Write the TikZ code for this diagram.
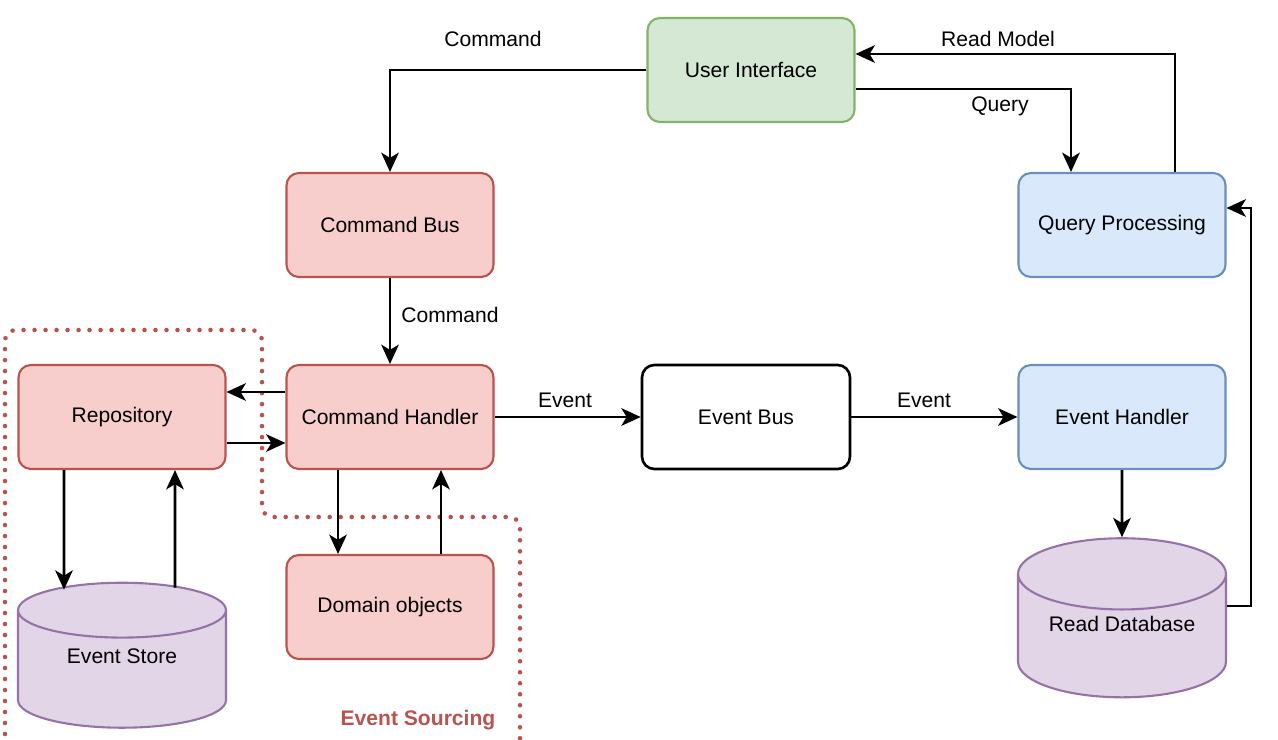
\documentclass[tikz,border=0pt]{standalone}
\usepackage{fontspec}
\setmainfont{Liberation Sans}
\usetikzlibrary{arrows.meta,positioning,calc,shapes.geometric}
\definecolor{cmdfill}{HTML}{F8CECC}
\definecolor{cmdline}{HTML}{B85450}
\definecolor{uifill}{HTML}{D5E8D4}
\definecolor{uiline}{HTML}{82B366}
\definecolor{qryfill}{HTML}{DAE8FC}
\definecolor{qryline}{HTML}{6C8EBF}
\definecolor{dbfill}{HTML}{E1D5E7}
\definecolor{dbline}{HTML}{9673A6}
\begin{document}
\begin{tikzpicture}[x=0.02cm,y=-0.02cm,
  box/.style={draw=#1line,fill=#1fill,rounded corners=7pt,line width=1.2pt,
    minimum width=4.14cm,minimum height=2.08cm,font=\fontsize{12}{14}\selectfont},
  store/.style={cylinder,shape border rotate=90,aspect=0.45,draw=dbline,fill=dbfill,
    line width=1.2pt,minimum width=4.16cm,minimum height=2.9cm,text depth=0.72cm,
    font=\fontsize{12}{14}\selectfont},
  flow/.style={line width=1.5pt,-{Stealth[length=11pt,width=10pt,inset=3pt]}},
  lbl/.style={font=\fontsize{12}{14}\selectfont},
]
  \useasboundingbox (0,0) rectangle (1278,740);

  % event sourcing frame
  \draw[cmdline,line width=2.6pt,line cap=round,dash pattern=on 0pt off 0.22cm,rounded corners=6pt]
    (5,745) -- (5,330) -- (262,330) -- (262,517) -- (520,517) -- (520,745);
  \node[font=\fontsize{12}{14}\selectfont\bfseries,text=cmdline] (srclbl) at (418,720) {Event Sourcing};

  \node[box=ui] (ui) at (751,70) {User Interface};
  \node[box=cmd] (cbus) at (390,225) {Command Bus};
  \node[box=qry] (qproc) at (1122,225) {Query Processing};
  \node[box=cmd] (repo) at (122,417) {Repository};
  \node[box=cmd] (handler) at (390,417) {Command Handler};
  \node[draw,fill=white,rounded corners=7pt,line width=1.5pt,minimum width=4.16cm,
    minimum height=2.08cm,font=\fontsize{12}{14}\selectfont] (ebus) at (746,417) {Event Bus};
  \node[box=qry] (ehandler) at (1122,417) {Event Handler};
  \node[box=cmd] (domain) at (390,607) {Domain objects};
  \node[store] (estore) at (122,674) {Event Store};
  \node[store] (rdb) at (1122,642) {Read Database};

  % command side
  \draw[flow] (ui.west) -| (cbus.north);
  \draw[flow] (cbus.south) -- (handler.north);
  \draw[flow] ($(handler.west)+(0,-25)$) -- ($(repo.east)+(0,-25)$);
  \draw[flow] ($(repo.east)+(0,26)$) -- ($(handler.west)+(0,26)$);
  \draw[flow] ($(repo.south)+(-58,0)$) -- ($(estore.north)+(-58,8)$);
  \draw[flow] ($(estore.north)+(53,6)$) -- ($(repo.south)+(53,0)$);
  \draw[flow] ($(handler.south)+(-52,0)$) -- ($(domain.north)+(-52,0)$);
  \draw[flow] ($(domain.north)+(51,0)$) -- ($(handler.south)+(51,0)$);

  % events
  \draw[flow] (handler.east) -- (ebus.west);
  \draw[flow] (ebus.east) -- (ehandler.west);
  \draw[flow] (ehandler.south) -- (rdb.north);

  % query side
  \draw[flow] ($(rdb.east)+(0,-36)$) -- ++(24,0) |- ($(qproc.east)+(0,-17)$);
  \draw[flow] ($(qproc.north)+(53,0)$) |- ($(ui.east)+(0,-16)$);
  \draw[flow] ($(ui.east)+(0,19)$) -| ($(qproc.north)+(-51,0)$);

  \node[lbl] (l1) at (493,39) {Command};
  \node[lbl] (l2) at (450,315) {Command};
  \node[lbl] (l3) at (565,400) {Event};
  \node[lbl] (l4) at (924,400) {Event};
  \node[lbl] (l5) at (998,39) {Read Model};
  \node[lbl] (l6) at (1000,106) {Query};
\end{tikzpicture}
\end{document}
